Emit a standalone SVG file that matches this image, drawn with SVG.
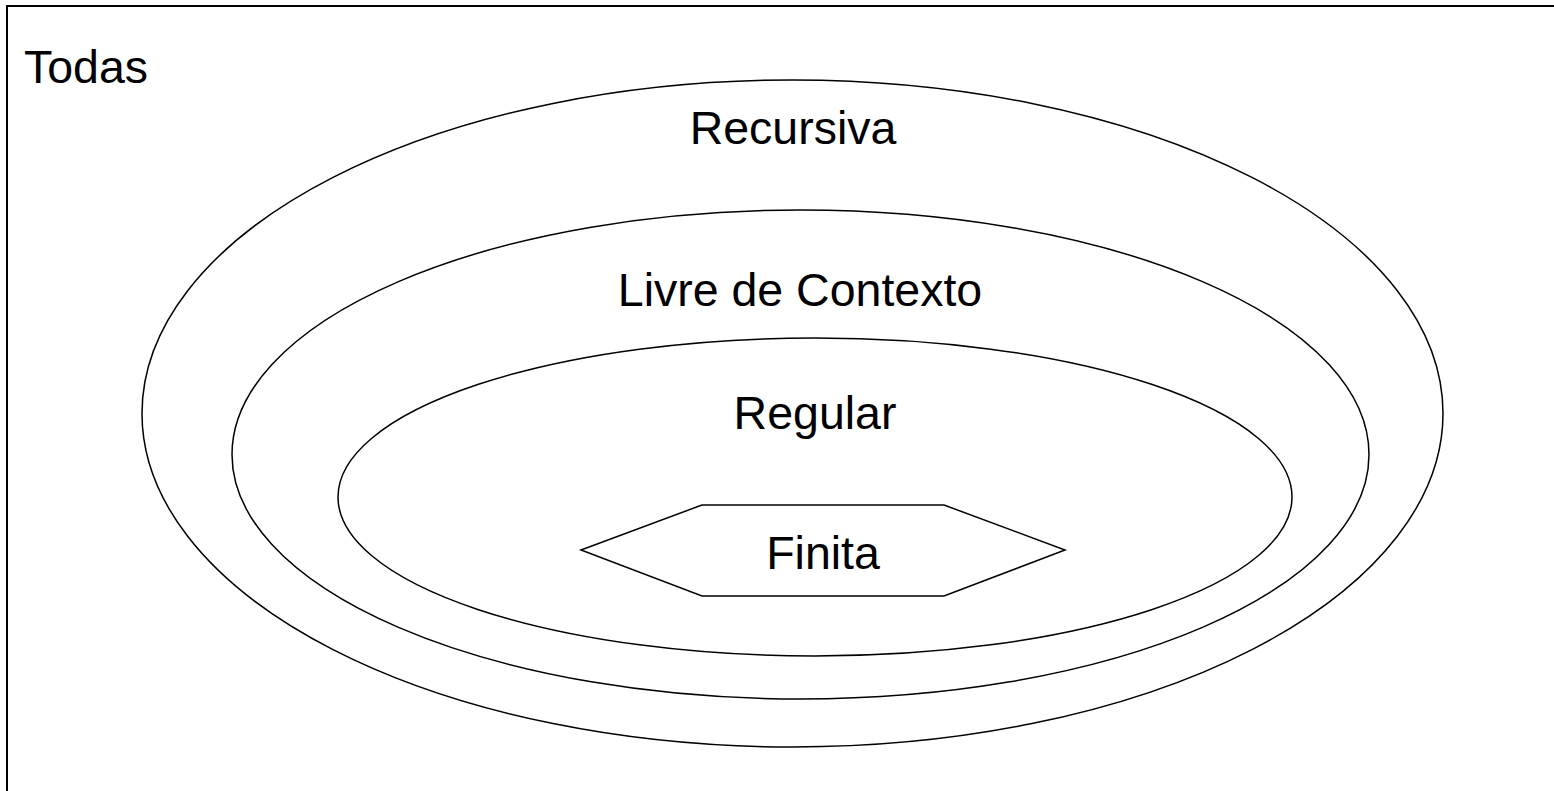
<svg xmlns="http://www.w3.org/2000/svg" width="1554" height="791" viewBox="0 0 1554 791">
<style>
.s{fill:none;stroke:#000;stroke-width:1.5}
.t{font-family:"Liberation Sans",Arial,sans-serif;font-size:46.5px;fill:#000}
.m{text-anchor:middle}
</style>
<rect width="1554" height="791" fill="#fff"/>
<g id="todas">
<rect x="7" y="6" width="1560" height="800" fill="none" stroke="#000" stroke-width="2"/>
<text class="t" x="24" y="83">Todas</text>
</g>
<g id="recursiva">
<ellipse class="s" cx="792.5" cy="413.5" rx="650.5" ry="333.5"/>
<text class="t m" x="793" y="144">Recursiva</text>
</g>
<g id="livre">
<ellipse class="s" cx="800.5" cy="454.5" rx="568.5" ry="244.5"/>
<text class="t m" x="800" y="306">Livre de Contexto</text>
</g>
<g id="regular">
<ellipse class="s" cx="815" cy="497" rx="477" ry="159"/>
<text class="t m" x="815" y="429">Regular</text>
</g>
<g id="finita">
<polygon class="s" points="581,550 702,505 944,505 1065,550 944,596 702,596"/>
<text class="t m" x="823" y="569">Finita</text>
</g>
<g id="connectors"/>
</svg>
